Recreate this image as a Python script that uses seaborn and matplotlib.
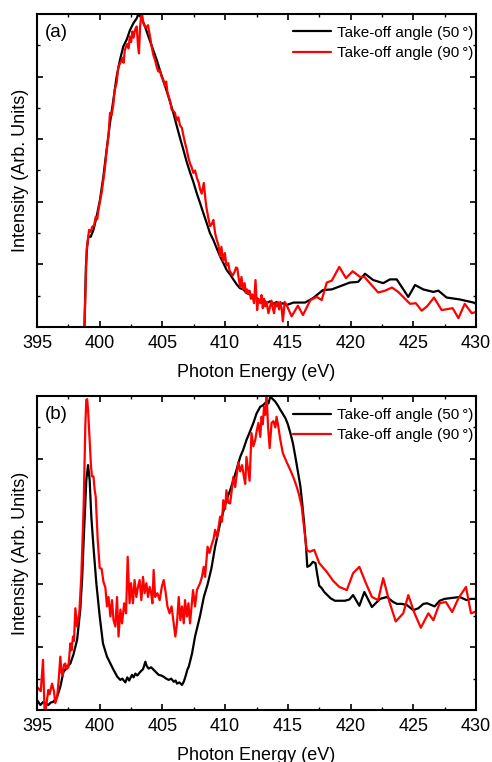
import numpy as np
import pandas as pd
import matplotlib
matplotlib.use("Agg")
import matplotlib.pyplot as plt
from matplotlib.ticker import MultipleLocator
import seaborn as sns

# ---------------- data ----------------
# (a) take-off angle 50 deg
a50_x = [398.77, 398.9, 399.0, 399.1, 399.28, 399.5, 399.76, 400.02, 400.29, 400.55,
         400.82, 401.09, 401.35, 401.62, 401.88, 402.15, 402.41, 402.68, 402.95, 403.08,
         403.34, 403.61, 403.88, 404.27, 404.54, 404.8, 405.07, 405.34, 405.6, 405.87,
         406.13, 406.4, 406.67, 406.93, 407.2, 407.46, 407.73, 408.0, 408.26, 408.53,
         408.79, 409.06, 409.32, 409.59, 409.86, 410.12, 410.39, 410.65, 410.92, 411.18,
         411.45, 411.72, 411.98, 412.25, 412.51, 412.78, 413.04, 413.31, 413.57, 413.84,
         414.1, 414.37, 414.6, 414.9, 415.45, 416.37, 417.0, 417.8, 418.5, 419.16,
         419.95, 420.6, 421.15, 421.8, 422.6, 423.14, 423.68, 424.6, 425.14, 425.8,
         426.6, 427.0, 427.66, 428.7, 429.8, 430.0]
a50_y = [-0.1, 0.97, 1.29, 1.45, 1.44, 1.55, 1.77, 2.03, 2.4, 2.83,
         3.26, 3.63, 4.0, 4.27, 4.48, 4.59, 4.74, 4.85, 4.93, 5.0,
         4.93, 4.8, 4.64, 4.42, 4.27, 4.1, 3.93, 3.77, 3.6, 3.42,
         3.22, 3.02, 2.83, 2.64, 2.47, 2.32, 2.14, 1.98, 1.82, 1.66,
         1.5, 1.39, 1.26, 1.13, 1.02, 0.91, 0.84, 0.76, 0.68, 0.62,
         0.6, 0.54, 0.52, 0.49, 0.46, 0.41, 0.44, 0.38, 0.41, 0.37,
         0.4, 0.36, 0.38, 0.35, 0.39, 0.39, 0.46, 0.59, 0.6, 0.65,
         0.71, 0.72, 0.85, 0.75, 0.7, 0.76, 0.76, 0.48, 0.67, 0.6,
         0.56, 0.58, 0.47, 0.44, 0.39, 0.37]

# (a) take-off angle 90 deg
a90_x = [398.77, 398.96, 399.15, 399.28, 399.4, 399.55, 399.68, 399.8, 399.9, 400.02,
         400.15, 400.29, 400.4, 400.56, 400.7, 400.82, 400.95, 401.08, 401.2, 401.35,
         401.48, 401.6, 401.7, 401.82, 401.9, 402.0, 402.1, 402.2, 402.3, 402.4,
         402.5, 402.6, 402.7, 402.82, 402.95, 403.05, 403.13, 403.22, 403.3, 403.38,
         403.48, 403.6, 403.72, 403.85, 404.0, 404.14, 404.27, 404.4, 404.55, 404.67,
         404.8, 404.93, 405.07, 405.2, 405.3, 405.4, 405.5, 405.62, 405.74, 405.86,
         406.0, 406.13, 406.27, 406.4, 406.55, 406.68, 406.8, 406.92, 407.05, 407.2,
         407.33, 407.47, 407.6, 407.75, 407.9, 408.0, 408.13, 408.3, 408.42, 408.5,
         408.65, 408.8, 408.95, 409.06, 409.2, 409.33, 409.45, 409.6, 409.7, 409.85,
         409.98, 410.1, 410.25, 410.35, 410.47, 410.6, 410.75, 410.87, 410.97, 411.1,
         411.2, 411.3, 411.42, 411.55, 411.65, 411.75, 411.85, 411.95, 412.05, 412.15,
         412.3, 412.42, 412.55, 412.65, 412.8, 412.9, 413.0, 413.1, 413.2, 413.3,
         413.45, 413.55, 413.7, 413.8, 413.9, 414.0, 414.1, 414.2, 414.3, 414.4,
         414.5, 414.6, 414.75, 414.9, 415.3, 415.8, 416.2, 416.8, 417.3, 417.7,
         418.1, 418.5, 419.1, 419.63, 420.17, 420.75, 421.1, 421.5, 422.2, 422.75,
         423.3, 423.8, 424.74, 425.2, 425.67, 426.1, 426.65, 427.26, 428.14, 428.6,
         429.1, 429.66, 430.0]
a90_y = [-0.1, 1.23, 1.55, 1.52, 1.6, 1.62, 1.76, 1.72, 1.87, 2.0,
         2.14, 2.35, 2.51, 2.83, 3.05, 3.42, 3.38, 3.55, 3.79, 3.9,
         4.16, 4.2, 4.24, 4.3, 4.22, 4.42, 4.48, 4.52, 4.45, 4.64,
         4.55, 4.72, 4.62, 4.75, 4.8, 4.5, 4.37, 4.8, 4.96, 5.0,
         4.85, 4.8, 4.78, 4.82, 4.65, 4.48, 4.35, 4.27, 4.15, 4.08,
         4.1, 4.0, 3.95, 3.85, 3.92, 3.75, 3.68, 3.6, 3.47, 3.45,
         3.42, 3.3, 3.35, 3.22, 3.18, 3.05, 2.94, 2.85, 2.72, 2.61,
         2.55, 2.46, 2.5, 2.38, 2.3, 2.2, 2.13, 2.3, 2.05, 1.92,
         1.75, 1.61, 1.65, 1.71, 1.5, 1.39, 1.32, 1.13, 1.28, 1.05,
         1.18, 0.98, 1.02, 0.9, 0.86, 0.82, 0.88, 0.95, 0.94, 0.75,
         0.64, 0.8, 0.6, 0.7, 0.55, 0.6, 0.53, 0.58, 0.45, 0.52,
         0.38, 0.75, 0.27, 0.45, 0.38, 0.51, 0.3, 0.45, 0.33, 0.4,
         0.22, 0.3, 0.42, 0.3, 0.22, 0.38, 0.33, 0.4, 0.28, 0.4,
         0.3, 0.09, 0.4, 0.35, 0.17, 0.34, 0.19, 0.43, 0.48, 0.43,
         0.71, 0.74, 0.96, 0.78, 0.89, 0.8, 0.8, 0.71, 0.55, 0.58,
         0.63, 0.56, 0.37, 0.38, 0.26, 0.33, 0.47, 0.27, 0.3, 0.14,
         0.37, 0.22, 0.24]

# (b) take-off angle 50 deg
b50_x = [395.0, 395.27, 395.5, 395.9, 396.1, 396.3, 396.6, 396.86, 397.1, 397.4,
         397.66, 397.9, 398.2, 398.45, 398.6, 398.72, 398.85, 398.93, 399.07, 399.2,
         399.33, 399.52, 399.73, 400.0, 400.26, 400.58, 400.85, 401.1, 401.4, 401.64,
         401.8, 402.04, 402.2, 402.35, 402.57, 402.7, 402.84, 403.0, 403.24, 403.45,
         403.64, 403.75, 403.9, 404.1, 404.3, 404.5, 404.7, 404.9, 405.1, 405.3,
         405.5, 405.7, 405.9, 406.05, 406.16, 406.35, 406.56, 406.7, 406.83, 407.0,
         407.1, 407.36, 407.6, 408.0, 408.3, 408.6, 408.9, 409.2, 409.6, 410.1,
         410.4, 410.65, 410.9, 411.2, 411.45, 411.7, 411.95, 412.25, 412.5, 412.8,
         413.0, 413.3, 413.45, 413.6, 413.8, 414.0, 414.2, 414.4, 414.8, 415.0,
         415.2, 415.4, 415.6, 415.8, 416.0, 416.15, 416.3, 416.45, 416.55, 416.75,
         417.0, 417.2, 417.35, 417.5, 417.7, 417.9, 418.1, 418.4, 418.75, 419.1,
         419.55, 419.9, 420.2, 420.7, 421.1, 421.7, 422.35, 422.9, 423.4, 423.7,
         424.1, 424.5, 425.0, 425.4, 425.8, 426.1, 426.7, 427.1, 427.5, 427.9,
         428.3, 428.7, 429.25, 429.6, 430.0]
b50_y = [0.16, 0.08, 0.13, 0.08, 0.12, 0.13, 0.21, 0.37, 0.6, 0.69,
         0.74, 0.88, 1.12, 1.6, 2.1, 2.7, 3.3, 3.66, 3.9, 3.66,
         3.08, 2.55, 2.02, 1.49, 1.06, 0.85, 0.74, 0.64, 0.53, 0.48,
         0.5, 0.44, 0.52, 0.47, 0.56, 0.52, 0.58, 0.55, 0.61, 0.65,
         0.77, 0.7, 0.66, 0.68, 0.64, 0.6, 0.56, 0.55, 0.53, 0.5,
         0.48, 0.5, 0.45, 0.47, 0.42, 0.44, 0.4, 0.45, 0.53, 0.65,
         0.69, 0.9, 1.17, 1.5, 1.8, 2.0, 2.25, 2.6, 2.97, 3.34,
         3.5, 3.66, 3.82, 4.03, 4.15, 4.3, 4.42, 4.57, 4.72, 4.83,
         4.85, 4.91, 4.88, 4.99, 4.95, 4.91, 4.85, 4.78, 4.65, 4.55,
         4.41, 4.25, 4.03, 3.8, 3.56, 3.28, 2.97, 2.6, 2.28, 2.3,
         2.36, 2.34, 2.15, 1.98, 1.94, 1.88, 1.84, 1.78, 1.74, 1.74,
         1.74, 1.76, 1.83, 1.66, 1.88, 1.64, 1.77, 1.8, 1.72, 1.69,
         1.69, 1.67, 1.59, 1.62, 1.69, 1.7, 1.65, 1.74, 1.77, 1.78,
         1.79, 1.8, 1.75, 1.77, 1.77]

# (b) take-off angle 90 deg
b90_x = [395.0, 395.2, 395.3, 395.48, 395.6, 395.66, 395.9, 396.0, 396.2, 396.35,
         396.46, 396.6, 396.73, 396.86, 396.95, 397.05, 397.15, 397.26, 397.35, 397.5,
         397.66, 397.75, 397.87, 397.95, 398.06, 398.19, 398.37, 398.53, 398.72, 398.85,
         398.93, 399.0, 399.07, 399.2, 399.3, 399.38, 399.5, 399.6, 399.68, 399.84,
         400.0, 400.15, 400.3, 400.45, 400.58, 400.7, 400.85, 400.98, 401.1, 401.25,
         401.38, 401.5, 401.65, 401.78, 401.95, 402.1, 402.23, 402.38, 402.5, 402.65,
         402.78, 402.92, 403.05, 403.18, 403.32, 403.45, 403.58, 403.72, 403.85, 403.98,
         404.1, 404.2, 404.3, 404.42, 404.6, 404.78, 404.95, 405.1, 405.23, 405.4,
         405.57, 405.73, 405.9, 406.03, 406.16, 406.3, 406.43, 406.56, 406.7, 406.8,
         406.95, 407.07, 407.2, 407.3, 407.44, 407.6, 407.75, 408.0, 408.15, 408.29,
         408.4, 408.6, 408.75, 408.95, 409.06, 409.2, 409.35, 409.6, 409.75, 409.85,
         410.0, 410.1, 410.25, 410.4, 410.65, 410.8, 411.05, 411.2, 411.35, 411.5,
         411.6, 411.7, 411.85, 411.95, 412.1, 412.25, 412.4, 412.52, 412.65, 412.8,
         412.9, 413.0, 413.1, 413.2, 413.3, 413.42, 413.55, 413.7, 413.85, 414.0,
         414.1, 414.25, 414.4, 414.6, 414.9, 415.2, 415.45, 415.7, 415.9, 416.1,
         416.3, 416.5, 416.75, 417.1, 417.5, 418.1, 418.6, 419.1, 419.7, 420.2,
         420.7, 421.2, 421.7, 422.2, 422.6, 423.1, 423.6, 424.2, 424.6, 425.1,
         425.6, 426.2, 426.6, 427.1, 427.6, 428.1, 428.6, 429.2, 429.6, 430.0]
b90_y = [0.37, 0.32, 0.3, 0.8, 0.0, -0.05, 0.32, 0.25, 0.42, 0.3,
         0.11, 0.2, 0.48, 0.85, 0.6, 0.55, 0.72, 0.74, 0.65, 0.68,
         1.06, 0.95, 1.17, 1.1, 1.62, 1.33, 1.54, 2.12, 3.24, 4.51,
         4.94, 4.95, 4.78, 4.3, 3.9, 3.72, 3.72, 3.5, 3.4, 2.71,
         2.26, 2.25, 2.04, 1.95, 1.65, 1.8, 1.49, 1.75, 1.43, 1.33,
         1.8, 1.17, 1.6, 1.38, 1.7, 1.54, 2.44, 1.7, 2.02, 1.7,
         2.07, 1.8, 1.96, 2.07, 1.75, 2.12, 1.86, 2.02, 1.8, 1.96,
         1.86, 1.7, 2.23, 1.8, 1.86, 1.75, 1.96, 2.07, 1.91, 1.65,
         1.54, 1.65, 1.38, 1.17, 1.38, 1.8, 1.43, 1.65, 1.38, 1.75,
         1.49, 1.7, 1.38, 1.6, 1.91, 1.65, 1.91, 2.02, 2.12, 2.28,
         2.12, 2.6, 2.5, 2.65, 2.71, 2.87, 2.75, 3.08, 3.0, 3.34,
         3.2, 3.5, 3.3, 3.29, 3.71, 3.55, 3.95, 3.8, 3.9, 3.71,
         3.6, 4.03, 3.8, 3.65, 4.41, 4.2, 4.3, 4.45, 4.57, 4.35,
         4.67, 4.55, 4.83, 4.7, 5.05, 4.51, 4.17, 4.57, 4.6, 4.5,
         4.67, 4.5, 4.3, 4.09, 3.95, 3.82, 3.7, 3.56, 3.42, 3.24,
         2.9, 2.55, 2.52, 2.55, 2.34, 2.2, 2.06, 1.96, 1.91, 2.18,
         2.28, 2.03, 1.8, 1.75, 2.1, 1.72, 1.41, 1.54, 1.83, 1.54,
         1.31, 1.54, 1.43, 1.7, 1.72, 1.56, 1.78, 1.96, 1.54, 1.57]

x_ticks = [395, 400, 405, 410, 415, 420, 425, 430]
label_50 = "Take-off angle (50\u2009°)"
label_90 = "Take-off angle (90\u2009°)"
panel_tags = ["(a)", "(b)"]

# ---------------- style ----------------
sns.set_theme(style="ticks")
plt.rcParams["font.family"] = ["Liberation Sans", "DejaVu Sans"]
plt.rcParams.update({
    "axes.linewidth": 1.5,
    "xtick.direction": "in",
    "ytick.direction": "in",
    "xtick.major.size": 4.0,
    "xtick.minor.size": 2.2,
    "ytick.major.size": 4.0,
    "ytick.minor.size": 2.2,
    "xtick.major.width": 1.2,
    "xtick.minor.width": 1.0,
    "ytick.major.width": 1.2,
    "ytick.minor.width": 1.0,
    "xtick.color": "black",
    "ytick.color": "black",
    "xtick.labelcolor": "black",
    "ytick.labelcolor": "black",
    "axes.edgecolor": "black",
    "axes.labelcolor": "black",
    "text.color": "black",
})

fig = plt.figure(figsize=(4.92, 7.62), dpi=100)
ax_a = fig.add_axes([0.0752, 0.5709, 0.8923, 0.4108])
ax_b = fig.add_axes([0.0752, 0.0682, 0.8923, 0.4121])

panels = [
    (ax_a, a50_x, a50_y, a90_x, a90_y, panel_tags[0]),
    (ax_b, b50_x, b50_y, b90_x, b90_y, panel_tags[1]),
]

for ax, x50, y50, x90, y90, tag in panels:
    df50 = pd.DataFrame({"energy": x50, "intensity": y50})
    df90 = pd.DataFrame({"energy": x90, "intensity": y90})
    sns.lineplot(data=df50, x="energy", y="intensity", ax=ax, color="black",
                 linewidth=1.6, label=label_50, estimator=None, sort=False)
    sns.lineplot(data=df90, x="energy", y="intensity", ax=ax, color="#ff0000",
                 linewidth=1.6, label=label_90, estimator=None, sort=False)

    ax.set_xlim(395, 430)
    ax.set_ylim(0, 5)
    ax.set_xticks(x_ticks)
    ax.set_xticklabels([str(t) for t in x_ticks])
    ax.xaxis.set_minor_locator(MultipleLocator(2.5))
    ax.yaxis.set_major_locator(MultipleLocator(1))
    ax.yaxis.set_minor_locator(MultipleLocator(0.5))
    ax.tick_params(axis="both", which="both", top=True, right=True,
                   labelleft=False, labelsize=13, pad=5.5)
    for s in ax.spines.values():
        s.set_visible(True)
        s.set_linewidth(1.5)
        s.set_color("black")

    ax.set_xlabel("Photon Energy (eV)", fontsize=13, labelpad=9)
    ax.set_ylabel("Intensity (Arb. Units)", fontsize=13, labelpad=6)

    ax.text(0.018, 0.942, tag, transform=ax.transAxes, fontsize=13.5,
            ha="left", va="center")

    ax.legend(loc="upper right", bbox_to_anchor=(1.0, 0.972), frameon=False,
              fontsize=11, handlelength=2.5, handletextpad=0.35,
              borderaxespad=0.0, borderpad=0.2, labelspacing=0.43)

fig.savefig("out.png", dpi=100)
